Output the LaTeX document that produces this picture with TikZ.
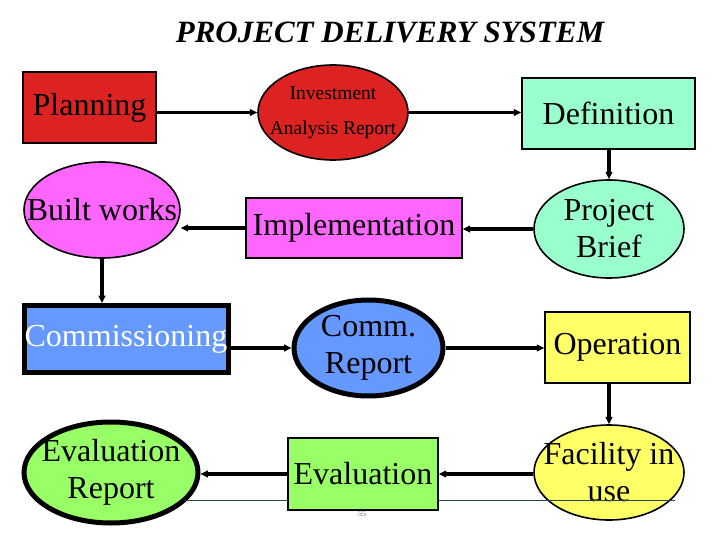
\documentclass[tikz,border=0pt]{standalone}
\usepackage{fontspec}
\setmainfont{Liberation Serif}
\usepackage{xcolor}
\usepackage{tikz}
\usetikzlibrary{arrows.meta,positioning,shapes.geometric,calc}
\definecolor{planred}{RGB}{221,34,34}
\definecolor{defcyan}{RGB}{153,255,204}
\definecolor{implpink}{RGB}{255,102,255}
\definecolor{commblue}{RGB}{102,153,255}
\definecolor{opyellow}{RGB}{255,255,102}
\definecolor{evalgreen}{RGB}{153,255,102}
\definecolor{footline}{RGB}{40,70,80}
\tikzset{
  stage/.style   ={draw, line width=1.6pt, align=center, inner sep=0pt, font=\fontsize{32}{37}\selectfont},
  doc/.style     ={draw, ellipse, line width=1.6pt, inner sep=0pt},
  doctext/.style ={align=center, inner sep=0pt, font=\fontsize{32}{37}\selectfont},
  heavy/.style   ={line width=5pt},
  flow/.style    ={-{Triangle[length=2.6mm,width=2.4mm]}, line width=3.2pt}
}
\begin{document}
\begin{tikzpicture}[x=1pt,y=-1pt]
  \useasboundingbox (0,0) rectangle (720,540);
  \node[font=\fontsize{31}{34}\selectfont\bfseries\itshape] (title) at (390,32) {PROJECT DELIVERY SYSTEM};
  % top row
  \node[stage, fill=planred, minimum width=133pt, minimum height=71pt] (plan) at (89.5,107.5) {Planning};
  \node[doc, fill=planred, minimum width=150pt, minimum height=95pt,
        label={[doctext, font=\fontsize{19.5}{35}\selectfont]center:{Investment\\Analysis Report}}] (iar) at (333,112.5) {};
  \node[stage, fill=defcyan, minimum width=173pt, minimum height=71pt] (defn) at (608.5,113.5) {Definition};
  % second row
  \node[doc, fill=implpink, minimum width=156pt, minimum height=96pt,
        label={[doctext]center:Built works}] (built) at (102,210) {};
  \node[stage, fill=implpink, minimum width=216pt, minimum height=60pt] (impl) at (354,228) {Implementation};
  \node[doc, fill=defcyan, minimum width=150pt, minimum height=98pt,
        label={[doctext]center:{Project\\Brief}}] (brief) at (609,229) {};
  % third row
  \node[stage, heavy, fill=commblue, text=white, minimum width=204pt, minimum height=67pt] (comm) at (126,339) {Commissioning};
  \node[doc, heavy, fill=commblue, minimum width=149pt, minimum height=96pt,
        label={[doctext]center:{Comm.\\Report}}] (crep) at (368.5,348) {};
  \node[stage, fill=opyellow, minimum width=145pt, minimum height=71pt] (oper) at (617.5,347.5) {Operation};
  % bottom row
  \node[doc, heavy, fill=evalgreen, minimum width=174pt, minimum height=101pt,
        label={[doctext]center:{Evaluation\\Report}}] (erep) at (111,472.5) {};
  \node[stage, fill=evalgreen, minimum width=150pt, minimum height=72pt] (eval) at (363,474) {Evaluation};
  \node[doc, fill=opyellow, minimum width=150pt, minimum height=95pt,
        label={[doctext]center:{Facility in\\use}}] (fac) at (609,472.5) {};
  % footer
  \draw[footline, line width=0.7pt] (185,500) -- (eval.west |- 0,500);
  \draw[footline, line width=0.7pt] (eval.east |- 0,500) -- (675,500);
  \node[font=\fontsize{8}{8}\selectfont, text=gray!80!black] (page) at (362,514) {55};
  % connectors
  \draw[flow] (iar.west -| plan.east) -- (iar.west);
  \draw[flow] (iar.east) -- (iar.east -| defn.west);
  \draw[flow] (defn.south -| brief.north) -- (brief.north);
  \draw[flow] (brief.west) -- (brief.west -| impl.east);
  \draw[flow] (impl.west) -- (impl.west -| built.east);
  \draw[flow] (built.south) -- (built.south |- comm.north);
  \draw[flow] (crep.west -| comm.east) -- (crep.west);
  \draw[flow] (crep.east) -- (crep.east -| oper.west);
  \draw[flow] (oper.south -| fac.north) -- (fac.north);
  \draw[flow] (fac.west |- eval.east) -- (eval.east);
  \draw[flow] (eval.west) -- (eval.west -| erep.east);
\end{tikzpicture}
\end{document}
